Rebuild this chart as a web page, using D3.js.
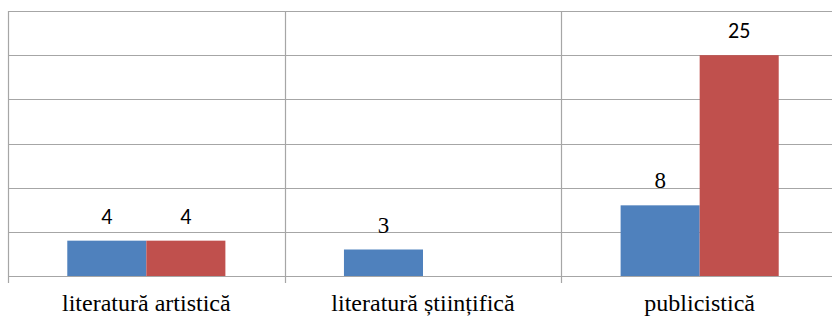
<!DOCTYPE html>
<html>
<head>
<meta charset="utf-8">
<script src="https://cdn.jsdelivr.net/npm/d3@7"></script>
</head>
<body style="margin:0">
<div id="chart"></div>
<script>
// values
const categories = ["literatură artistică", "literatură științifică", "publicistică"];
const seriesNames = ["A", "B"];
const seriesA = [4, 3, 8];
const seriesB = [4, null, 25];
const yTicks = [0, 5, 10, 15, 20, 25, 30];

// the source mixes fonts on the data labels
const serifLabel = [[false, true, true], [false, false, false]];
const colors = ["#4F81BD", "#C0504D"];

const width = 832, height = 316;
const margin = {top: 11, right: -6, bottom: 40, left: 8};

const svg = d3.select("#chart").append("svg")
    .attr("width", width)
    .attr("height", height)
    .attr("font-family", "Liberation Serif")
    .style("display", "block");

const x = d3.scaleBand()
    .domain(categories)
    .range([margin.left, width - margin.right])
    .padding(0);

// bars inside a category, gap width 150%
const xSub = d3.scaleBand()
    .domain(seriesNames)
    .range([0, x.bandwidth()])
    .paddingInner(0)
    .paddingOuter(0.75);

const y = d3.scaleLinear()
    .domain([0, 30])
    .range([height - margin.bottom, margin.top]);

// horizontal gridlines
svg.append("g")
    .selectAll("line")
    .data(yTicks)
    .join("line")
    .attr("x1", margin.left)
    .attr("x2", width)
    .attr("y1", d => Math.round(y(d)) + 0.5)
    .attr("y2", d => Math.round(y(d)) + 0.5)
    .attr("stroke", "#a6a6a6")
    .attr("stroke-width", 1.2);

// vertical category separators, a little below the baseline
const bounds = categories.map(c => x(c)).concat([x(categories[categories.length - 1]) + x.bandwidth()]);
svg.append("g")
    .selectAll("line")
    .data(bounds)
    .join("line")
    .attr("x1", d => Math.round(d) + 0.5)
    .attr("x2", d => Math.round(d) + 0.5)
    .attr("y1", y(30))
    .attr("y2", y(0) + 7)
    .attr("stroke", "#a6a6a6")
    .attr("stroke-width", 1.2);

const rows = [];
[seriesA, seriesB].forEach((vals, si) => {
    vals.forEach((v, ci) => {
        if (v !== null) rows.push({cat: categories[ci], ser: seriesNames[si], value: v, si: si, ci: ci});
    });
});

svg.append("g")
    .selectAll("rect")
    .data(rows)
    .join("rect")
    .attr("x", d => x(d.cat) + xSub(d.ser))
    .attr("y", d => y(d.value))
    .attr("width", xSub.bandwidth())
    .attr("height", d => y(0) - y(d.value))
    .attr("fill", d => colors[d.si]);

// data labels
svg.append("g")
    .selectAll("text")
    .data(rows)
    .join("text")
    .attr("font-family", d => serifLabel[d.si][d.ci] ? "Liberation Serif" : "Carlito")
    .attr("font-size", d => serifLabel[d.si][d.ci] ? 23 : 22)
    .attr("x", d => x(d.cat) + xSub(d.ser) + xSub.bandwidth() / 2)
    .attr("y", d => y(d.value) - 17)
    .attr("text-anchor", "middle")
    .attr("fill", "#000")
    .text(d => d.value);

// category labels
svg.append("g")
    .selectAll("text")
    .data(categories)
    .join("text")
    .attr("font-family", "Liberation Serif")
    .attr("font-size", 24)
    .attr("x", d => x(d) + x.bandwidth() / 2)
    .attr("y", 311)
    .attr("text-anchor", "middle")
    .attr("fill", "#000")
    .text(d => d);
</script>
</body>
</html>
